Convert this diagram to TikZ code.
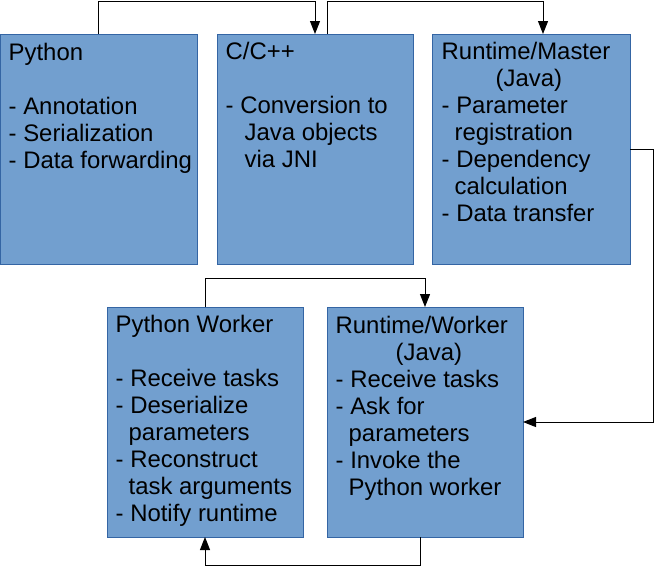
\documentclass[tikz,border=0pt]{standalone}
\usepackage{fontspec}
\setmainfont{Liberation Sans}
\usetikzlibrary{arrows.meta,calc}
\definecolor{boxfill}{HTML}{729FCF}
\definecolor{boxline}{HTML}{3465A4}
\begin{document}
\begin{tikzpicture}[x=1pt,y=-1pt,
  box/.style={draw=boxline,fill=boxfill,line width=1pt,rectangle,inner sep=0pt,outer sep=0pt,anchor=north west,minimum width=196.5pt,minimum height=230pt},
  txt/.style={anchor=north west,inner sep=0pt,font=\fontsize{23.9}{27}\selectfont},
  arr/.style={draw=black,line width=1pt,-{Triangle[length=13pt,width=10pt]}}]
\useasboundingbox (0,0) rectangle (658,566);
\node[box] (py) at (0.5,34) {};
\node[box,minimum width=196pt] (cc) at (217,34) {};
\node[box,minimum width=198pt] (rm) at (432,34) {};
\node[box,minimum width=196pt] (pw) at (107,307) {};
\node[box,minimum width=196pt] (rw) at (327,307) {};
\node[txt] (tpy) at (8.5,41.1) {\begin{tabular}{@{}l@{}}Python\\ \\- Annotation\\- Serialization\\- Data forwarding\end{tabular}};
\node[txt] (tcc) at (225.5,40.1) {\begin{tabular}{@{}l@{}}C/C++\\ \\- Conversion to\\\hspace*{19pt}Java objects\\\hspace*{19pt}via JNI\end{tabular}};
\node[txt] (trm) at (441.5,40.1) {\begin{tabular}{@{}l@{}}Runtime/Master\\\hspace*{54pt}(Java)\\- Parameter\\\hspace*{13pt}registration\\- Dependency\\\hspace*{13pt}calculation\\- Data transfer\end{tabular}};
\node[txt] (tpw) at (115.5,313.1) {\begin{tabular}{@{}l@{}}Python Worker\\ \\- Receive tasks\\- Deserialize\\\hspace*{13pt}parameters\\- Reconstruct\\\hspace*{13pt}task arguments\\- Notify runtime\end{tabular}};
\node[txt] (trw) at (335.5,314.1) {\begin{tabular}{@{}l@{}}Runtime/Worker\\\hspace*{60pt}(Java)\\- Receive tasks\\- Ask for\\\hspace*{13pt}parameters\\- Invoke the\\\hspace*{13pt}Python worker\end{tabular}};
\coordinate (top) at (0,1);
\coordinate (rgt) at (653,0);
\coordinate (bot) at (0,565);
\coordinate (mid) at (0,278);
\draw[arr] (py.north) -- (py.north |- top) -| (cc.north);
\draw[arr] ([xshift=12pt]cc.north) -- ([xshift=12pt]cc.north |- top) -| ([xshift=12pt]rm.north);
\draw[arr] (rm.east) -- (rm.east -| rgt) |- (rw.east);
\draw[arr] ([xshift=-5pt]rw.south) -- ([xshift=-5pt]rw.south |- bot) -| (pw.south);
\draw[arr] (pw.north) -- (pw.north |- mid) -| (rw.north);
\end{tikzpicture}
\end{document}
